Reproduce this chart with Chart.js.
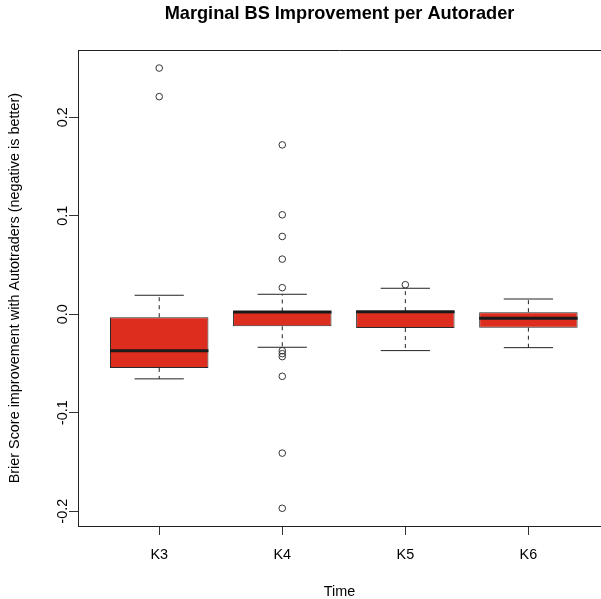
<!DOCTYPE html>
<html>
<head>
<meta charset="utf-8">
<title>Marginal BS Improvement per Autorader</title>
<script src="https://cdn.jsdelivr.net/npm/chart.js@4.4.1/dist/chart.umd.min.js"></script>
<style>
	html, body { margin: 0; padding: 0; background: #fff; overflow: hidden; }
	canvas { display: block; }
</style>
</head>
<body>
<canvas id="bsChart" width="601" height="599"></canvas>
<script>
'use strict';

// box statistics per group
var categories = ['K3', 'K4', 'K5', 'K6'];
var lowerWhisker = [-0.0656, -0.0335, -0.0369, -0.0339];
var lowerQuartile = [-0.0545, -0.0122, -0.0139, -0.0136];
var medians = [-0.0370, 0.0022, 0.0025, -0.0040];
var upperQuartile = [-0.0030, 0.0028, 0.0032, 0.0021];
var upperWhisker = [0.0193, 0.0203, 0.0264, 0.0155];
var outliers = [
	[0.250, 0.221],
	[0.172, 0.101, 0.079, 0.056, 0.027, -0.037, -0.040, -0.043, -0.063, -0.141, -0.197],
	[0.030],
	[]
];
var yTicks = [-0.2, -0.1, 0.0, 0.1, 0.2];

var BOX_HALF = 0.4;
var CAP_HALF = 0.2;

Chart.defaults.font.family = "'Liberation Sans', Arial, Helvetica, sans-serif";
Chart.defaults.color = '#000';

var boxes = categories.map(function (c, i) {
	return { x: i + 1, y: [lowerQuartile[i], upperQuartile[i]] };
});

var medianLines = [];
var whiskerLines = [];
var capLines = [];
var outlierPoints = [];

categories.forEach(function (c, i) {
	var x = i + 1;
	medianLines.push({ x: x - BOX_HALF, y: medians[i] }, { x: x + BOX_HALF, y: medians[i] }, { x: x + 0.5, y: null });

	whiskerLines.push({ x: x, y: upperQuartile[i] }, { x: x, y: upperWhisker[i] }, { x: x, y: null });
	whiskerLines.push({ x: x, y: lowerQuartile[i] }, { x: x, y: lowerWhisker[i] }, { x: x, y: null });

	capLines.push({ x: x - CAP_HALF, y: upperWhisker[i] }, { x: x + CAP_HALF, y: upperWhisker[i] }, { x: x + 0.5, y: null });
	capLines.push({ x: x - CAP_HALF, y: lowerWhisker[i] }, { x: x + CAP_HALF, y: lowerWhisker[i] }, { x: x + 0.5, y: null });

	outliers[i].forEach(function (v) {
		outlierPoints.push({ x: x, y: v });
	});
});

// top edge of the R plot frame (left and bottom come from the axis borders)
var frameTop = {
	id: 'frameTop',
	afterDraw: function (chart) {
		var a = chart.chartArea;
		var ctx = chart.ctx;
		var y = Math.round(a.top) + 0.5;
		ctx.save();
		ctx.strokeStyle = '#222';
		ctx.lineWidth = 1;
		ctx.beginPath();
		ctx.moveTo(a.left, y);
		ctx.lineTo(a.right, y);
		ctx.stroke();
		ctx.restore();
	}
};

var lineStyle = {
	type: 'line',
	pointRadius: 0,
	fill: false,
	spanGaps: false,
	borderCapStyle: 'butt'
};

new Chart(document.getElementById('bsChart'), {
	type: 'bar',
	data: {
		datasets: [
			Object.assign({}, lineStyle, {
				label: 'Median',
				data: medianLines,
				borderColor: '#1a1a1a',
				borderWidth: 3,
				order: 0
			}),
			{
				type: 'scatter',
				label: 'Outliers',
				data: outlierPoints,
				pointStyle: 'circle',
				pointRadius: 3.3,
				pointBorderWidth: 1,
				pointBorderColor: '#333',
				pointBackgroundColor: 'rgba(0, 0, 0, 0)',
				showLine: false,
				order: 1
			},
			Object.assign({}, lineStyle, {
				label: 'Whiskers',
				data: whiskerLines,
				borderColor: '#222',
				borderWidth: 1,
				borderDash: [4, 4],
				order: 2
			}),
			Object.assign({}, lineStyle, {
				label: 'Caps',
				data: capLines,
				borderColor: '#222',
				borderWidth: 1,
				order: 2
			}),
			{
				label: 'IQR',
				data: boxes,
				backgroundColor: 'rgb(221, 45, 30)',
				borderColor: '#2a2a2a',
				borderWidth: 1,
				borderSkipped: false,
				barPercentage: 0.8,
				categoryPercentage: 1,
				order: 3
			}
		]
	},
	options: {
		responsive: false,
		animation: false,
		events: [],
		layout: { padding: 0, autoPadding: false },
		plugins: {
			legend: { display: false },
			tooltip: { enabled: false },
			title: {
				display: true,
				fullSize: false,
				text: 'Marginal BS Improvement per Autorader',
				color: '#000',
				font: { size: 18.2, weight: 'bold' },
				padding: { top: 3, bottom: 25.5 }
			}
		},
		scales: {
			x: {
				type: 'linear',
				offset: false,
				min: 0.34,
				max: 4.59,
				afterBuildTicks: function (scale) {
					scale.ticks = categories.map(function (c, i) {
						return { value: i + 1 };
					});
				},
				afterFit: function (scale) {
					scale.height = 73;
					scale.paddingLeft = 0;
					scale.paddingRight = 0;
				},
				ticks: {
					font: { size: 14.4 },
					color: '#000',
					padding: 11,
					maxRotation: 0,
					callback: function (value, index) {
						return categories[index];
					}
				},
				grid: {
					display: true,
					offset: false,
					drawOnChartArea: false,
					drawTicks: true,
					tickLength: 9,
					color: '#333'
				},
				border: { display: true, color: '#222', width: 1 },
				title: {
					display: true,
					text: 'Time',
					font: { size: 14.4, lineHeight: 1 },
					padding: { top: 0, bottom: 0 }
				}
			},
			y: {
				type: 'linear',
				min: -0.215,
				max: 0.268,
				afterBuildTicks: function (scale) {
					scale.ticks = yTicks.map(function (v) {
						return { value: v };
					});
				},
				afterFit: function (scale) {
					scale.width = 78;
				},
				ticks: {
					font: { size: 14.4 },
					color: '#000',
					padding: -6,
					minRotation: 90,
					maxRotation: 90,
					crossAlign: 'center',
					callback: function (value) {
						return value.toFixed(1);
					}
				},
				grid: {
					display: true,
					drawOnChartArea: false,
					drawTicks: true,
					tickLength: 9,
					color: '#333'
				},
				border: { display: true, color: '#222', width: 1 },
				title: {
					display: true,
					text: 'Brier Score improvement with Autotraders (negative is better)',
					font: { size: 14.4, lineHeight: 1 },
					padding: { top: 8, bottom: 0 }
				}
			}
		}
	},
	plugins: [frameTop]
});
</script>
</body>
</html>
